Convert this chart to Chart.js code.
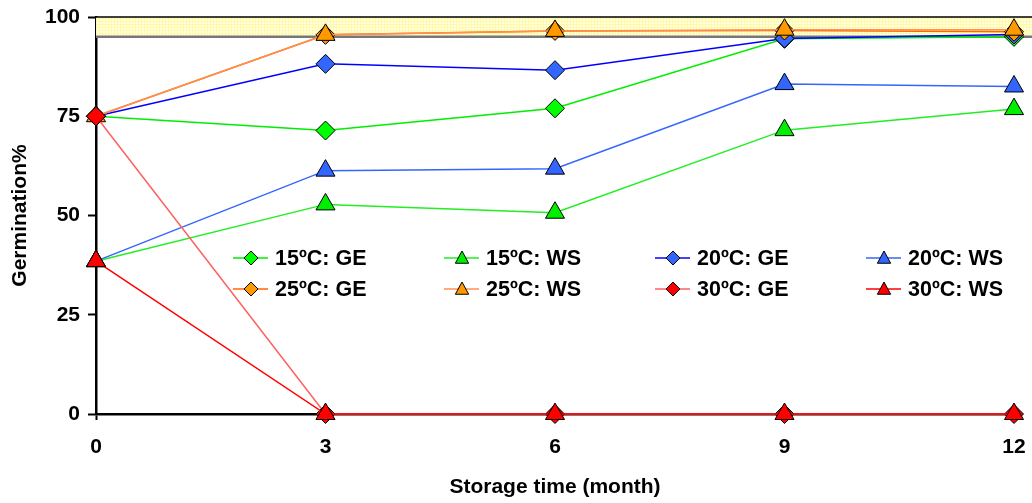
<!DOCTYPE html>
<html>
<head>
<meta charset="utf-8">
<script src="https://cdn.jsdelivr.net/npm/chart.js@4/dist/chart.umd.min.js"></script>
<style>
  html, body { margin: 0; padding: 0; background: #fff; }
  #wrap { width: 1032px; height: 503px; }
</style>
</head>
<body>
<div id="wrap"><canvas id="myChart" width="1032" height="503"></canvas></div>
<script>
"use strict";

// ========== DỮ LIỆU ==========
var months = [0, 3, 6, 9, 12];
var yTicks = [0, 25, 50, 75, 100];
var seriesLabels = ["15ºC: GE", "15ºC: WS", "20ºC: GE", "20ºC: WS",
                    "25ºC: GE", "25ºC: WS", "30ºC: GE", "30ºC: WS"];
var ge15 = [75, 71.4, 77.0, 94.5, 95.0];
var ws15 = [38.5, 52.8, 50.7, 71.5, 76.8];
var ge20 = [75, 88.2, 86.6, 94.6, 95.6];
var ws20 = [38.5, 61.3, 61.8, 83.1, 82.5];
var ge25 = [75, 95.5, 96.5, 96.6, 96.3];
var ws25 = [75, 95.5, 96.5, 96.8, 96.8];
var ge30 = [75, 0, 0, 0, 0];
var ws30 = [38.5, 0, 0, 0, 0];
var bandLow = 95, bandHigh = 100;

var seriesValues = [ge15, ws15, ge20, ws20, ge25, ws25, ge30, ws30];
var lineColors = ["#00ee00", "#22ee22", "#0000ff", "#3366ff",
                  "#ff6600", "#ff9050", "#ff6060", "#ff0000"];
var fillColors = ["#00ff00", "#00ee00", "#3366ff", "#3366ff",
                  "#ff9900", "#ff9900", "#ff0000", "#ff0000"];

var FONT = "'Liberation Sans', Arial, sans-serif";

// ========== PLUGIN: DẢI 95-100 ==========
function makeHatch() {
  var c = document.createElement("canvas");
  c.width = 3; c.height = 3;
  var g = c.getContext("2d");
  g.fillStyle = "#ffffe6";
  g.fillRect(0, 0, 3, 3);
  g.fillStyle = "#fff9a8";
  g.fillRect(0, 0, 3, 1);
  g.fillRect(0, 0, 1, 3);
  return c;
}

var bandPlugin = {
  id: "band",
  beforeDatasetsDraw: function (chart) {
    var ctx = chart.ctx, y = chart.scales.y, area = chart.chartArea;
    var top = y.getPixelForValue(bandHigh), bot = y.getPixelForValue(bandLow);
    ctx.save();
    ctx.fillStyle = ctx.createPattern(makeHatch(), "repeat");
    ctx.fillRect(area.left, top, chart.width - area.left, bot - top);
    ctx.lineWidth = 2.5;
    ctx.strokeStyle = "#777";
    ctx.beginPath(); ctx.moveTo(area.left, bot); ctx.lineTo(chart.width, bot); ctx.stroke();
    ctx.lineWidth = 1.5;
    ctx.strokeStyle = "#000";
    ctx.beginPath(); ctx.moveTo(area.left, top); ctx.lineTo(chart.width, top); ctx.stroke();
    ctx.restore();
  }
};

// ========== PLUGIN: CHÚ GIẢI ==========
function drawMarker(ctx, style, x, y, r, fill) {
  ctx.beginPath();
  if (style === "triangle") {
    ctx.moveTo(x, y - r);
    ctx.lineTo(x + r * 0.95, y + r * 0.75);
    ctx.lineTo(x - r * 0.95, y + r * 0.75);
  } else {
    ctx.moveTo(x, y - r);
    ctx.lineTo(x + r, y);
    ctx.lineTo(x, y + r);
    ctx.lineTo(x - r, y);
  }
  ctx.closePath();
  ctx.fillStyle = fill;
  ctx.fill();
  ctx.lineWidth = 1;
  ctx.strokeStyle = "#000";
  ctx.stroke();
}

var legendPlugin = {
  id: "innerLegend",
  afterDraw: function (chart) {
    var ctx = chart.ctx;
    var left = 233, colW = 211, rowY = [258, 289];
    ctx.save();
    ctx.font = "bold 21.5px " + FONT;
    ctx.textBaseline = "middle";
    seriesLabels.forEach(function (label, i) {
      var x = left + (i % 4) * colW, y = rowY[Math.floor(i / 4)];
      ctx.lineWidth = 1.5;
      ctx.strokeStyle = lineColors[i];
      ctx.beginPath(); ctx.moveTo(x, y); ctx.lineTo(x + 35, y); ctx.stroke();
      drawMarker(ctx, i % 2 ? "triangle" : "diamond", x + 18, y, 7, fillColors[i]);
      ctx.fillStyle = "#000";
      ctx.fillText(label, x + 42, y + 1);
    });
    ctx.restore();
  }
};

// ========== BIỂU ĐỒ ==========
var datasets = seriesValues.map(function (vals, i) {
  var isTri = i % 2 === 1;
  return {
    label: seriesLabels[i],
    data: months.map(function (m, k) { return { x: m, y: vals[k] }; }),
    borderColor: lineColors[i],
    borderWidth: 1.5,
    pointStyle: isTri ? "triangle" : "rectRot",
    pointRadius: isTri ? 11 : 9.5,
    pointHoverRadius: isTri ? 11 : 9.5,
    pointBackgroundColor: fillColors[i],
    pointBorderColor: "#000",
    pointBorderWidth: 1,
    tension: 0,
    clip: false,
    order: seriesValues.length - i
  };
});

var ctx = document.getElementById("myChart").getContext("2d");
new Chart(ctx, {
  type: "line",
  data: { datasets: datasets },
  plugins: [bandPlugin, legendPlugin],
  options: {
    responsive: false,
    animation: false,
    events: [],
    layout: { padding: { top: 17, right: 18, left: 0, bottom: 0 } },
    plugins: { legend: { display: false }, tooltip: { enabled: false } },
    scales: {
      x: {
        type: "linear",
        min: months[0],
        max: months[months.length - 1],
        afterBuildTicks: function (axis) {
          axis.ticks = months.map(function (v) { return { value: v }; });
        },
        afterFit: function (axis) {
          axis.height = 89;
          axis.paddingLeft = 0;
          axis.paddingRight = 0;
        },
        border: { color: "#000", width: 2.5 },
        grid: { drawOnChartArea: false, tickLength: 6, tickColor: "#000", tickWidth: 2 },
        ticks: { color: "#000", padding: 15, font: { family: FONT, size: 21, weight: "bold" } },
        title: {
          display: true, text: "Storage time (month)", color: "#000",
          padding: { top: 0, bottom: 3.5 },
          font: { family: FONT, size: 21, weight: "bold" }
        }
      },
      y: {
        min: yTicks[0],
        max: yTicks[yTicks.length - 1],
        afterBuildTicks: function (axis) {
          axis.ticks = yTicks.map(function (v) { return { value: v }; });
        },
        afterFit: function (axis) {
          axis.width = 96;
          axis.paddingTop = 0;
          axis.paddingBottom = 0;
        },
        border: { color: "#000", width: 2.5 },
        grid: { drawOnChartArea: false, tickLength: 8, tickColor: "#000", tickWidth: 2 },
        ticks: { color: "#000", padding: 8, font: { family: FONT, size: 21, weight: "bold" } },
        title: {
          display: true, text: "Germination%", color: "#000",
          padding: { top: 8, bottom: 0 },
          font: { family: FONT, size: 21, weight: "bold" }
        }
      }
    }
  }
});
</script>
</body>
</html>
